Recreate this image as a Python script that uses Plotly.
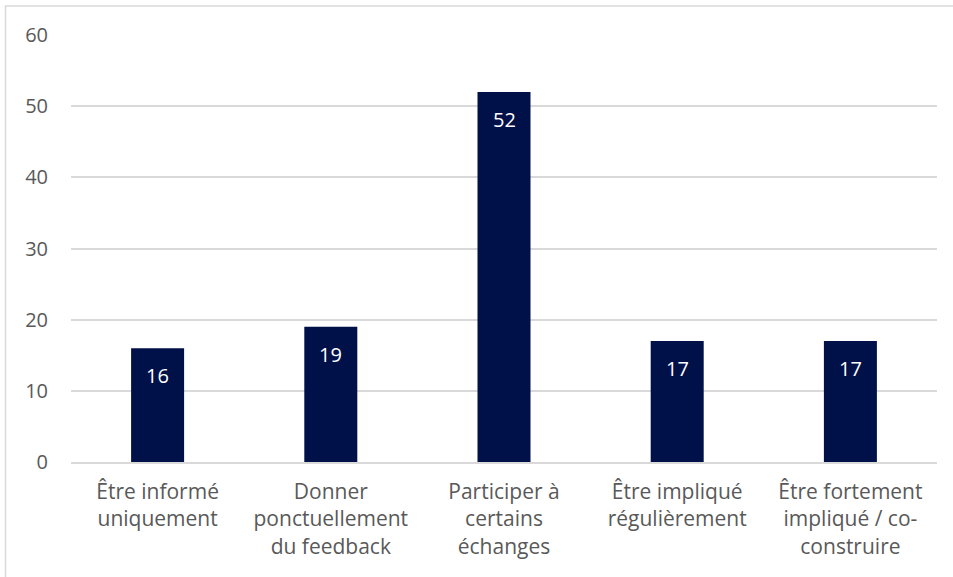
import plotly.graph_objects as go

categories = [
    "Être informé<br>uniquement",
    "Donner<br>ponctuellement<br>du feedback",
    "Participer à<br>certains<br>échanges",
    "Être impliqué<br>régulièrement",
    "Être fortement<br>impliqué / co-<br>construire",
]
values = [16, 19, 52, 17, 17]
y_ticks = [0, 10, 20, 30, 40, 50, 60]

BAR_COLOR = "#001049"
TEXT_COLOR = "#595959"
GRID_COLOR = "#d9d9d9"
FONT = "Open Sans, Liberation Sans, Arial, sans-serif"
FSIZE = 21

fig = go.Figure(
    go.Bar(
        x=categories,
        y=values,
        marker=dict(color=BAR_COLOR, line=dict(width=0)),
        hoverinfo="x+y",
    )
)

# value labels placed just inside the top of each bar
for cat, v in zip(categories, values):
    fig.add_annotation(
        x=cat, y=v, text=str(v), showarrow=False,
        yanchor="top", yshift=-12,
        font=dict(family=FONT, size=20, color="white"),
    )

# chart frame (top and left edges visible)
fig.add_shape(
    type="rect", xref="paper", yref="paper",
    x0=-0.0756, x1=1.2, y0=-0.6, y1=1.0679,
    line=dict(color=GRID_COLOR, width=1.5),
    fillcolor="rgba(0,0,0,0)", layer="below",
)

fig.update_layout(
    width=953, height=577,
    margin=dict(l=71, r=16, t=35, b=115),
    paper_bgcolor="white", plot_bgcolor="white",
    bargap=0.694,
    showlegend=False,
    font=dict(family=FONT, size=FSIZE, color=TEXT_COLOR),
    xaxis=dict(
        showgrid=False, showline=True, linecolor=GRID_COLOR, linewidth=1.5,
        ticks="", tickfont=dict(size=FSIZE, color=TEXT_COLOR),
        ticklabelstandoff=10,
    ),
    yaxis=dict(
        range=[0, 60], tickvals=y_ticks, showgrid=True, gridcolor=GRID_COLOR,
        gridwidth=1.5, zeroline=False, showline=False, ticks="",
        tickfont=dict(size=20, color=TEXT_COLOR), ticklabelstandoff=22,
    ),
)

fig.write_html("out.html")
